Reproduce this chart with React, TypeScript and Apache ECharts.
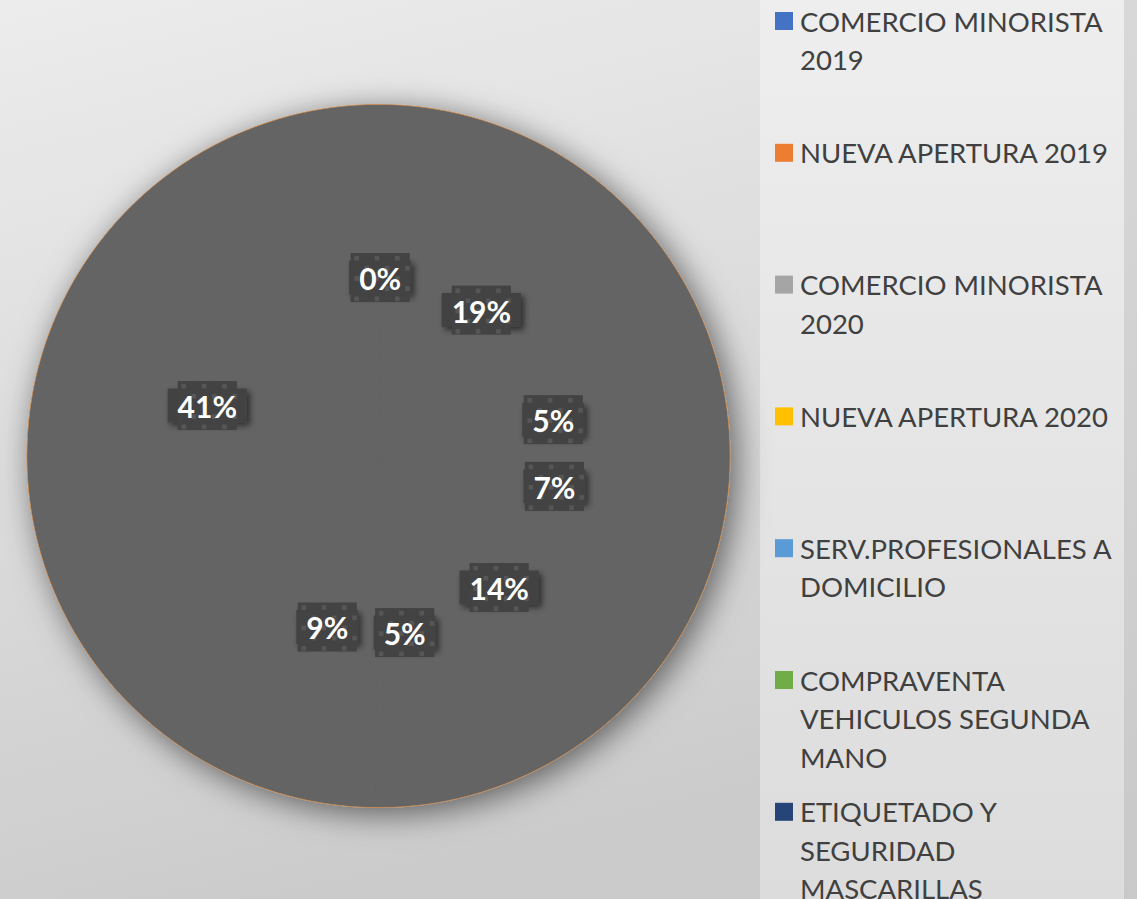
import React, { useEffect, useRef } from "react";
import * as echarts from "echarts";

const categories = [
  "COMERCIO MINORISTA 2019",
  "NUEVA APERTURA 2019",
  "COMERCIO MINORISTA 2020",
  "NUEVA APERTURA 2020",
  "SERV.PROFESIONALES A DOMICILIO",
  "COMPRAVENTA VEHICULOS SEGUNDA MANO",
  "ETIQUETADO Y SEGURIDAD MASCARILLAS",
  "OTROS",
];
const values = [0.3, 19, 5, 7, 14, 5, 9, 41];
const legendColors = ["#4472C4", "#ED7D31", "#A5A5A5", "#FFC000", "#5B9BD5", "#70AD47", "#264478", "#9E480E"];
const legendLines = [
  ["COMERCIO MINORISTA", "2019"],
  ["NUEVA APERTURA 2019"],
  ["COMERCIO MINORISTA", "2020"],
  ["NUEVA APERTURA 2020"],
  ["SERV.PROFESIONALES A", "DOMICILIO"],
  ["COMPRAVENTA", "VEHICULOS SEGUNDA", "MANO"],
  ["ETIQUETADO Y", "SEGURIDAD", "MASCARILLAS"],
];

const W = 1137;
const H = 899;
const LH = 38.5;
const ICON = 18;
const LEGEND_LEFT = 775;
const LEGEND_CENTER0 = 21;
const LEGEND_STEP = 131.8;

function makePattern(w: number, h: number): string | null {
  try {
    const c = document.createElement("canvas");
    c.width = w;
    c.height = h;
    const ctx = c.getContext("2d");
    if (!ctx) return null;
    ctx.fillStyle = "#434343";
    ctx.fillRect(0, 0, w, h);
    ctx.fillStyle = "#565656";
    for (let row = 0; row * 11 < h + 11; row++) {
      const off = row % 2 === 0 ? 4 : 15;
      for (let x = off; x < w; x += 22) {
        ctx.fillRect(x, 3 + row * 11, 5, 5);
      }
    }
    return c.toDataURL("image/png");
  } catch (e) {
    return null;
  }
}

export default function App() {
  const ref = useRef<HTMLDivElement>(null);
  useEffect(() => {
    if (!ref.current) return;
    const chart = echarts.init(ref.current, undefined, { renderer: "svg" });

    const legends: any[] = [];
    legendLines.forEach((lines, i) => {
      lines.forEach((line, j) => {
        const centerY = LEGEND_CENTER0 + i * LEGEND_STEP + j * LH;
        legends.push({
          orient: "vertical",
          left: LEGEND_LEFT,
          top: centerY - LH / 2,
          padding: 0,
          itemWidth: ICON,
          itemHeight: ICON,
          icon: j === 0 ? "rect" : "none",
          selectedMode: false,
          data: [{ name: categories[i], itemStyle: { color: legendColors[i] } }],
          formatter: () => line,
          textStyle: {
            fontFamily: "Lato",
            fontSize: 27.5,
            color: "#404040",
            lineHeight: LH,
            padding: [0, 0, 0, 2],
          },
        });
      });
    });

    const center = [378.5, 456];
    const radius = 351.5;
    const pattern = makePattern(64, 53);

    chart.setOption({
      animation: false,
      backgroundColor: {
        type: "linear",
        x: 0,
        y: 0,
        x2: 0.3,
        y2: 1,
        colorStops: [
          { offset: 0, color: "#ececec" },
          { offset: 1, color: "#cbcbcb" },
        ],
      },
      graphic: [
        {
          type: "rect",
          left: 760,
          top: 0,
          shape: { width: 364, height: H },
          style: {
            fill: {
              type: "linear",
              x: 0,
              y: 0,
              x2: 0,
              y2: 1,
              colorStops: [
                { offset: 0, color: "#eeeeee" },
                { offset: 1, color: "#dcdcdc" },
              ],
            },
          },
          z: -10,
          silent: true,
        },
        {
          type: "rect",
          left: 1124,
          top: 0,
          shape: { width: 13, height: H },
          style: {
            fill: {
              type: "linear",
              x: 0,
              y: 0,
              x2: 0,
              y2: 1,
              colorStops: [
                { offset: 0, color: "#d8d8d8" },
                { offset: 1, color: "#c9c9c9" },
              ],
            },
          },
          z: -10,
          silent: true,
        },
      ],
      legend: legends,
      series: [
        {
          type: "pie",
          silent: true,
          center,
          radius,
          z: 1,
          label: { show: false },
          labelLine: { show: false },
          itemStyle: {
            color: "#646464",
            borderColor: "#c58a55",
            borderWidth: 1,
            shadowBlur: 32,
            shadowOffsetX: 6,
            shadowOffsetY: 6,
            shadowColor: "rgba(0,0,0,0.55)",
          },
          data: [{ name: "_bg", value: 1 }],
        },
        {
          type: "pie",
          name: "Sectores",
          center,
          radius: radius - 0.5,
          z: 2,
          percentPrecision: 0,
          itemStyle: { color: "#646464" },
          emphasis: { disabled: true },
          labelLine: { show: false },
          label: {
            show: true,
            position: "inside",
            formatter: "{p|{d}%}",
            color: "#ffffff",
            fontFamily: "Lato",
            fontWeight: "bold",
            fontSize: 30,
            backgroundColor: "#434343",
            padding: 0,
            shadowBlur: 6,
            shadowOffsetX: 3,
            shadowOffsetY: 3,
            shadowColor: "rgba(0,0,0,0.55)",
            rich: {
              p: {
                color: "#ffffff",
                fontFamily: "Lato",
                fontWeight: "bold",
                fontSize: 30,
                lineHeight: 34,
                padding: [10, 10, 9, 10],
                backgroundColor: pattern ? { image: pattern } : "#434343",
              },
            },
          },
          data: categories.map((c, i) => ({ name: c, value: values[i] })),
        },
      ],
    });
    return () => chart.dispose();
  }, []);
  return (
    <div
      ref={ref}
      style={{ position: "absolute", left: 0, top: 0, width: W, height: H }}
    />
  );
}
